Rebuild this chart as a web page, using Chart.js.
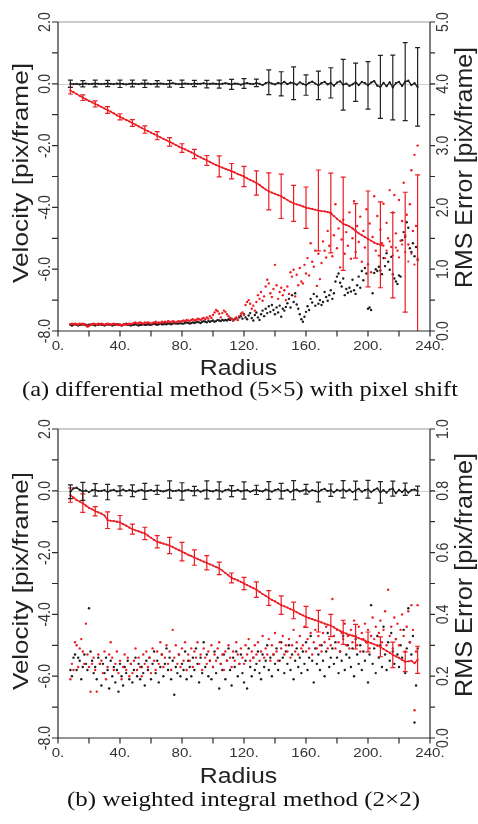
<!DOCTYPE html>
<html>
<head>
<meta charset="utf-8">
<script src="https://cdn.jsdelivr.net/npm/chart.js@4.4.0/dist/chart.umd.min.js"></script>
<style>
  html, body { margin: 0; padding: 0; background: #fff; }
  canvas { display: block; }
</style>
</head>
<body>
<canvas id="chartA" width="478" height="405"></canvas>
<canvas id="chartB" width="478" height="419"></canvas>
<script>
// sample grid along the radius (regular spacing of the measurement)
const radiusLine = [];
for (let r = 8; r <= 232; r += 2) radiusLine.push(r);
const radiusDots = [];
for (let r = 8; r <= 232; r++) radiusDots.push(r);
const barRadius = [8,16,24,32,40,48,56,64,72,80,88,96,104,112,120,128,136,144,152,160,168,176,184,192,200,208,216,224,232];

// ticks
const xMajor = [0,40,80,120,160,200,240];
const xMinor = [20,60,100,140,180,220];
const velMajor = [2,0,-2,-4,-6,-8];
const velMinor = [1,-1,-3,-5,-7];
const rmsMajorA = [0,1,2,3,4,5];
const rmsMinorA = [0.5,1.5,2.5,3.5,4.5];
const rmsMajorB = [0,0.2,0.4,0.6,0.8,1.0];
const rmsMinorB = [0.1,0.3,0.5,0.7,0.9];

// --- (a) differential method ---
const velBlackA = [
  0.00,-0.01,0.00,-0.02,0.00,0.01,-0.01,0.00,0.01,0.00,-0.01,0.00,
  0.01,0.00,-0.01,0.01,0.00,0.00,-0.02,0.00,0.01,0.00,-0.01,0.01,
  0.00,0.01,-0.01,0.00,0.00,0.01,0.00,-0.01,0.00,0.02,0.00,-0.01,
  0.00,0.01,0.00,-0.01,0.01,0.00,0.00,0.02,-0.01,0.00,0.01,0.00,
  -0.01,0.00,0.02,0.00,-0.02,0.01,0.00,-0.03,0.01,0.02,0.00,-0.01,
  0.03,0.00,-0.04,0.02,0.05,0.01,-0.02,0.03,0.00,0.06,-0.01,0.04,
  0.02,-0.03,0.05,0.00,-0.04,0.03,0.07,0.01,-0.05,0.02,0.06,-0.02,
  0.03,-0.06,0.04,0.08,-0.03,0.01,-0.07,-0.02,0.05,-0.04,0.06,0.02,
  -0.05,0.04,0.09,-0.06,-0.10,0.03,-0.08,0.05,-0.12,0.02,0.06,-0.07,
  0.07,0.10,-0.04,0.02,-0.10
];
const velRedA = [
  -0.22,-0.27,-0.33,-0.39,-0.45,-0.50,-0.55,-0.60,-0.65,-0.70,-0.75,-0.80,
  -0.85,-0.90,-0.96,-1.02,-1.07,-1.12,-1.17,-1.22,-1.27,-1.32,-1.38,-1.43,
  -1.48,-1.53,-1.58,-1.63,-1.68,-1.73,-1.78,-1.83,-1.88,-1.93,-1.98,-2.03,
  -2.08,-2.12,-2.17,-2.22,-2.27,-2.33,-2.38,-2.43,-2.48,-2.53,-2.58,-2.63,
  -2.67,-2.71,-2.75,-2.79,-2.83,-2.87,-2.92,-2.96,-3.00,-3.06,-3.11,-3.16,
  -3.21,-3.27,-3.35,-3.42,-3.48,-3.52,-3.56,-3.60,-3.64,-3.70,-3.76,-3.82,
  -3.87,-3.90,-3.93,-3.97,-4.01,-4.03,-4.05,-4.08,-4.10,-4.12,-4.13,-4.15,
  -4.18,-4.28,-4.37,-4.45,-4.53,-4.57,-4.61,-4.68,-4.76,-4.84,-4.90,-4.96,
  -5.02,-5.08,-5.14,-5.18,-5.21,-5.24,-5.40,-5.10,-5.55,-5.30,-5.62,-5.20,
  -5.45,-5.75,-5.50,-5.85,-5.65
];
const errBlackA = [0.12,0.10,0.11,0.10,0.12,0.11,0.12,0.10,0.11,0.12,0.10,0.12,0.13,0.16,0.16,0.12,0.40,0.39,0.53,0.33,0.46,0.49,0.82,0.62,0.77,1.02,1.05,1.26,1.27];
const errRedA = [0.11,0.09,0.10,0.11,0.10,0.11,0.12,0.13,0.14,0.14,0.15,0.16,0.34,0.25,0.33,0.39,0.60,0.72,0.58,0.67,1.31,1.29,1.51,0.88,1.55,1.39,1.38,1.94,2.70];
const rmsBlackA = [
  .10,.09,.10,.11,.10,.09,.10,.10,.11,.10,
  .10,.09,.10,.10,.11,.10,.09,.10,.10,.11,
  .10,.10,.09,.10,.11,.10,.10,.09,.10,.10,
  .11,.10,.10,.09,.10,.11,.12,.10,.10,.09,
  .10,.10,.11,.10,.09,.10,.10,.11,.10,.10,
  .11,.10,.10,.11,.12,.11,.10,.11,.12,.11,
  .11,.12,.11,.12,.12,.11,.12,.13,.12,.12,
  .12,.13,.12,.12,.13,.14,.13,.12,.13,.14,
  .13,.14,.15,.14,.13,.15,.16,.15,.14,.16,
  .15,.16,.17,.15,.16,.18,.17,.16,.18,.17,
  .18,.17,.19,.18,.20,.17,.19,.21,.18,.22,
  .24,.20,.27,.22,.19,.25,.29,.21,.17,.26,
  .30,.22,.18,.27,.33,.24,.36,.29,.40,.31,
  .42,.34,.27,.38,.30,.41,.23,.36,.33,.39,
  .45,.52,.38,.58,.47,.61,.43,.36,.27,.19,
  .15,.23,.31,.40,.34,.52,.46,.60,.41,.56,
  .44,.50,.42,.47,.63,.55,.49,.58,.66,.52,
  .61,.80,.88,.93,.78,.72,.85,.58,.68,.62,
  .70,.64,.83,.66,.60,.74,.88,.70,.97,.82,
  1.02,.93,.36,.38,.34,.61,.94,1.00,.97,1.04,
  .98,.92,1.18,1.05,1.26,1.12,.99,1.20,.92,.85,
  .80,.76,.90,.88,1.47,1.60,1.52,1.76,1.67,1.34,
  1.28,1.42,1.21,1.36,1.15
];
const rmsRedA = [
  .11,.12,.11,.12,.11,.10,.12,.11,.12,.11,
  .09,.07,.08,.10,.11,.12,.11,.10,.12,.11,
  .12,.11,.10,.11,.12,.11,.10,.11,.12,.11,
  .10,.11,.10,.09,.10,.11,.10,.11,.12,.11,
  .12,.13,.14,.12,.13,.14,.13,.12,.14,.13,
  .14,.13,.12,.13,.14,.15,.13,.14,.13,.15,
  .14,.15,.14,.16,.15,.14,.16,.15,.14,.15,
  .16,.15,.16,.17,.16,.18,.17,.16,.18,.19,
  .17,.18,.20,.19,.18,.20,.21,.19,.22,.20,
  .24,.21,.26,.30,.34,.32,.28,.22,.29,.33,
  .31,.27,.24,.21,.19,.17,.20,.22,.18,.24,
  .28,.30,.26,.42,.47,.50,.44,.36,.41,.33,
  .47,.58,.52,.63,.49,.56,.72,.83,.77,.61,
  .55,.68,1.07,.74,.52,.63,.70,.58,.66,.50,
  .72,.60,.95,.88,.99,.56,.91,.74,1.02,.80,
  .77,1.07,.93,1.18,.90,1.42,1.12,1.04,1.30,.73,
  1.25,.84,1.10,1.45,1.30,1.19,1.62,1.38,1.90,1.21,
  1.55,2.05,1.34,1.66,1.03,1.48,1.80,1.25,1.60,1.38,
  1.92,1.17,1.50,2.10,1.28,1.70,1.44,1.85,1.12,1.62,
  1.35,1.97,1.08,1.74,.95,1.52,2.18,1.30,1.86,1.22,
  1.64,1.42,2.06,1.18,1.75,1.50,2.28,1.36,1.92,2.20,
  1.58,1.30,2.12,1.46,1.78,2.40,1.55,1.88,1.40,2.05,
  2.60,1.62,2.85,1.70,3.00
];

// --- (b) weighted integral method ---
const velBlackB = [
  -0.03,0.08,0.10,0.03,-0.02,0.01,-0.04,0.02,0.03,-0.01,0.00,0.02,
  -0.04,0.01,0.03,-0.02,0.00,0.04,-0.01,0.02,0.00,-0.03,0.01,0.03,
  -0.02,0.00,0.02,-0.01,0.03,0.00,-0.02,0.01,0.04,-0.01,0.00,0.02,
  -0.02,0.01,0.03,0.00,-0.01,0.02,-0.03,0.01,0.03,0.00,-0.02,0.02,
  0.01,-0.03,0.02,0.04,-0.01,0.00,0.03,-0.02,0.01,0.02,-0.03,0.01,
  0.03,0.00,-0.02,0.04,0.01,-0.03,0.02,0.05,-0.01,0.00,0.03,-0.04,
  0.02,0.04,-0.02,0.01,0.05,-0.03,0.02,0.00,-0.04,0.03,0.06,-0.01,
  0.02,-0.05,0.03,0.00,0.05,-0.02,0.04,-0.04,0.01,0.06,-0.03,0.02,
  0.05,-0.04,0.03,0.08,-0.05,0.02,-0.06,0.04,0.07,-0.08,0.03,-0.04,
  0.05,-0.06,0.02,0.04,0.00
];
const velRedB = [
  -0.14,-0.22,-0.30,-0.35,-0.40,-0.48,-0.55,-0.60,-0.66,-0.70,-0.74,-0.80,
  -0.95,-0.97,-0.98,-1.00,-1.02,-1.08,-1.13,-1.19,-1.24,-1.28,-1.31,-1.35,
  -1.38,-1.45,-1.52,-1.59,-1.65,-1.68,-1.71,-1.74,-1.77,-1.82,-1.87,-1.92,
  -1.97,-2.02,-2.07,-2.11,-2.16,-2.20,-2.25,-2.29,-2.33,-2.38,-2.42,-2.47,
  -2.51,-2.58,-2.66,-2.74,-2.82,-2.86,-2.90,-2.95,-3.00,-3.05,-3.10,-3.15,
  -3.20,-3.27,-3.34,-3.40,-3.47,-3.53,-3.58,-3.64,-3.70,-3.74,-3.78,-3.83,
  -3.87,-3.93,-3.98,-4.03,-4.08,-4.12,-4.15,-4.19,-4.22,-4.26,-4.30,-4.33,
  -4.36,-4.42,-4.48,-4.53,-4.58,-4.62,-4.66,-4.69,-4.72,-4.77,-4.81,-4.85,
  -4.89,-4.93,-4.97,-5.01,-5.05,-5.12,-5.18,-5.24,-5.31,-5.36,-5.41,-5.47,
  -5.53,-5.52,-5.50,-5.58,-5.47
];
const errBlackB = [0.22,0.29,0.20,0.25,0.16,0.19,0.26,0.15,0.28,0.28,0.15,0.29,0.28,0.18,0.28,0.15,0.29,0.25,0.31,0.16,0.32,0.20,0.28,0.30,0.29,0.35,0.24,0.20,0.15];
const errRedB = [0.23,0.30,0.15,0.27,0.22,0.16,0.20,0.20,0.26,0.30,0.25,0.23,0.20,0.16,0.20,0.25,0.24,0.30,0.27,0.34,0.35,0.36,0.39,0.40,0.32,0.32,0.41,0.32,0.44];
const rmsBlackB = [
  .22,.20,.26,.27,.22,.26,.25,.19,.23,.27,
  .24,.22,.42,.28,.25,.21,.23,.19,.26,.24,
  .17,.24,.21,.26,.22,.16,.25,.20,.23,.18,
  .22,.15,.24,.20,.17,.23,.21,.25,.19,.24,
  .18,.22,.26,.20,.24,.19,.23,.21,.17,.25,
  .22,.26,.19,.24,.28,.21,.25,.18,.23,.27,
  .20,.24,.29,.22,.26,.19,.25,.14,.23,.21,
  .27,.20,.24,.22,.28,.19,.25,.23,.20,.26,
  .22,.29,.24,.18,.26,.21,.31,.23,.27,.20,
  .25,.19,.23,.28,.21,.26,.16,.24,.22,.27,
  .19,.25,.29,.22,.17,.26,.23,.28,.20,.24,
  .27,.21,.18,.25,.16,.29,.23,.20,.26,.22,
  .24,.28,.21,.19,.27,.23,.25,.30,.22,.26,
  .20,.27,.24,.29,.22,.25,.31,.26,.21,.28,
  .24,.30,.22,.27,.19,.25,.29,.23,.26,.21,
  .28,.24,.31,.22,.26,.33,.25,.18,.29,.24,
  .27,.22,.30,.25,.20,.28,.34,.23,.26,.29,
  .24,.31,.26,.21,.28,.25,.33,.22,.27,.30,
  .26,.23,.29,.20,.32,.27,.24,.30,.22,.28,
  .25,.31,.18,.27,.43,.24,.29,.21,.33,.26,
  .30,.23,.36,.27,.22,.31,.25,.34,.28,.24,
  .32,.27,.23,.30,.26,.35,.21,.29,.42,.31,
  .27,.33,.05,.17,.29
];
const rmsRedB = [
  .19,.24,.22,.31,.30,.23,.29,.32,.28,.24,
  .37,.27,.23,.15,.24,.26,.22,.15,.27,.24,
  .25,.21,.28,.19,.23,.27,.31,.26,.22,.24,
  .28,.21,.25,.19,.23,.27,.22,.26,.20,.24,
  .21,.25,.29,.22,.26,.23,.20,.27,.24,.28,
  .23,.26,.21,.29,.25,.22,.28,.24,.31,.27,
  .23,.26,.30,.24,.28,.22,.35,.26,.30,.24,
  .27,.23,.29,.25,.31,.22,.27,.25,.29,.23,
  .28,.26,.31,.24,.27,.22,.29,.26,.24,.28,
  .25,.30,.23,.27,.25,.29,.31,.24,.27,.22,
  .28,.25,.30,.26,.23,.28,.25,.31,.27,.24,
  .29,.26,.24,.30,.27,.32,.25,.28,.26,.30,
  .27,.31,.25,.28,.33,.26,.29,.27,.32,.25,
  .30,.27,.34,.28,.25,.31,.29,.33,.27,.30,
  .28,.32,.26,.30,.35,.28,.31,.27,.33,.29,
  .30,.36,.28,.32,.29,.34,.27,.31,.35,.29,
  .33,.30,.28,.34,.31,.36,.29,.32,.30,.45,
  .33,.29,.35,.31,.28,.34,.32,.37,.30,.33,
  .29,.35,.31,.38,.33,.30,.36,.28,.34,.32,
  .37,.31,.35,.29,.33,.39,.32,.36,.30,.34,
  .38,.31,.35,.41,.30,.48,.33,.36,.29,.39,
  .32,.37,.30,.35,.40,.33,.28,.36,.41,.31,
  .43,.35,.09,.28,.43
];

const RED = '#ec1c24';
const BLACK = '#1c1c1c';

// where texts go in each canvas
const panelSetup = {
  chartA: {
    velData: { black: velBlackA, red: velRedA },
    bars: [{ center: velRedA, err: errRedA, color: RED }, { center: velBlackA, err: errBlackA, color: '#222' }],
    rmsMajor: rmsMajorA, rmsMinor: rmsMinorA,
    xLabelBase: 349.5, radiusBase: 375, radiusX: 238.5,
    caption: '(a) differential method (5\u00d75) with pixel shift',
    captionX: 240, captionBase: 396, captionWidth: 436,
    velTitleY: 173, velTitleLen: 220, rmsTitleY: 167.5, rmsTitleLen: 241
  },
  chartB: {
    bars: [{ center: velRedB, err: errRedB, color: RED }, { center: velBlackB, err: errBlackB, color: '#222' }],
    rmsMajor: rmsMajorB, rmsMinor: rmsMinorB,
    xLabelBase: 351.5, radiusBase: 378, radiusX: 238.5,
    caption: '(b) weighted integral method (2\u00d72)',
    captionX: 243.5, captionBase: 401, captionWidth: 353,
    velTitleY: 176, velTitleLen: 218, rmsTitleY: 170, rmsTitleLen: 244
  }
};

function drawText(ctx, s, x, y, font, rot, sAlong, sAcross, align, base) {
  ctx.save();
  ctx.translate(x, y);
  ctx.rotate(rot);
  ctx.scale(sAlong, sAcross);
  ctx.font = font;
  ctx.textAlign = align;
  ctx.textBaseline = base;
  ctx.fillText(s, 0, 0);
  ctx.restore();
}

function fitText(ctx, s, x, y, font, rot, len, sAcross, align) {
  ctx.save();
  ctx.font = font;
  const w = ctx.measureText(s).width;
  ctx.restore();
  drawText(ctx, s, x, y, font, rot, len / w, sAcross, align, 'alphabetic');
}

const framePlugin = {
  id: 'frame',
  beforeDatasetsDraw(chart) {
    const { ctx, chartArea: a, scales } = chart;
    const y0 = Math.round(scales.y.getPixelForValue(0)) + 0.5;
    ctx.save();
    ctx.strokeStyle = '#cfcfcf';
    ctx.lineWidth = 1;
    ctx.beginPath();
    ctx.moveTo(a.left, y0);
    ctx.lineTo(a.right + 8, y0);
    ctx.stroke();
    ctx.restore();
  },
  afterDatasetsDraw(chart) {
    const p = panelSetup[chart.canvas.id];
    const { ctx, chartArea: a, scales: { x, y } } = chart;
    ctx.save();
    ctx.beginPath();
    ctx.rect(a.left, a.top, a.right - a.left, a.bottom - a.top);
    ctx.clip();
    ctx.lineWidth = 1.2;
    p.bars.forEach(b => {
      ctx.strokeStyle = b.color;
      barRadius.forEach((r, i) => {
        const v = b.center[radiusLine.indexOf(r)];
        const px = x.getPixelForValue(r);
        const top = y.getPixelForValue(v + b.err[i]);
        const bot = y.getPixelForValue(v - b.err[i]);
        ctx.beginPath();
        ctx.moveTo(px, top); ctx.lineTo(px, bot);
        ctx.moveTo(px - 2.5, top); ctx.lineTo(px + 2.5, top);
        ctx.moveTo(px - 2.5, bot); ctx.lineTo(px + 2.5, bot);
        ctx.stroke();
      });
    });
    ctx.restore();
  },
  afterDraw(chart) {
    const p = panelSetup[chart.canvas.id];
    const { ctx, chartArea: a, scales: { x, y, y1 } } = chart;
    ctx.save();

    // frame
    ctx.lineWidth = 1.2;
    ctx.strokeStyle = '#999';
    ctx.beginPath(); ctx.moveTo(a.left, a.top); ctx.lineTo(a.right, a.top); ctx.stroke();
    ctx.strokeStyle = '#2a2a2a';
    ctx.beginPath();
    ctx.moveTo(a.left, a.top); ctx.lineTo(a.left, a.bottom); ctx.lineTo(a.right, a.bottom);
    ctx.moveTo(a.right, a.top); ctx.lineTo(a.right, a.bottom);
    ctx.stroke();

    // ticks
    ctx.beginPath();
    xMajor.concat(xMinor).forEach(v => {
      const px = x.getPixelForValue(v);
      ctx.moveTo(px, a.bottom); ctx.lineTo(px, a.bottom + 5.5);
    });
    velMajor.concat(velMinor).forEach(v => {
      const py = y.getPixelForValue(v);
      ctx.moveTo(a.left - 6, py); ctx.lineTo(a.left, py);
    });
    p.rmsMajor.concat(p.rmsMinor).forEach(v => {
      const py = y1.getPixelForValue(v);
      ctx.moveTo(a.right, py); ctx.lineTo(a.right + 5, py);
    });
    ctx.stroke();

    // tick labels
    ctx.fillStyle = '#333';
    const sans = '"Liberation Sans", Arial, sans-serif';
    xMajor.forEach(v => {
      drawText(ctx, v + '.', x.getPixelForValue(v), p.xLabelBase, '13px ' + sans, 0, 1.16, 1, 'center', 'alphabetic');
    });
    velMajor.forEach(v => {
      drawText(ctx, v.toFixed(1), 50, y.getPixelForValue(v), '15px ' + sans, -Math.PI / 2, 0.95, 1.1, 'center', 'alphabetic');
    });
    p.rmsMajor.forEach(v => {
      drawText(ctx, v.toFixed(1), 448, y1.getPixelForValue(v), '15px ' + sans, -Math.PI / 2, 0.95, 1.1, 'center', 'alphabetic');
    });

    // axis titles
    ctx.fillStyle = '#222';
    fitText(ctx, 'Velocity [pix/frame]', 28, p.velTitleY, '21px ' + sans, -Math.PI / 2, p.velTitleLen, 1.05, 'center');
    fitText(ctx, 'RMS Error [pix/frame]', 472, p.rmsTitleY, '22px ' + sans, -Math.PI / 2, p.rmsTitleLen, 1.05, 'center');
    drawText(ctx, 'Radius', p.radiusX, p.radiusBase, '22px ' + sans, 0, 1.13, 1, 'center', 'alphabetic');

    // caption
    ctx.fillStyle = '#111';
    fitText(ctx, p.caption, p.captionX, p.captionBase, '22px "Liberation Serif", "Times New Roman", serif', 0, p.captionWidth, 1, 'center');
    ctx.restore();
  }
};

function dots(values, color) {
  return {
    data: radiusDots.map((r, i) => ({ x: r, y: values[i] })),
    yAxisID: 'y1',
    showLine: false,
    backgroundColor: color,
    borderWidth: 0,
    pointRadius: 1.2
  };
}

function curve(values, color, cut) {
  return {
    data: radiusLine.map((r, i) => ({ x: r, y: values[i] })),
    yAxisID: 'y',
    showLine: true,
    borderColor: color,
    backgroundColor: color,
    borderWidth: 1.4,
    pointRadius: 1.1,
    pointBorderWidth: 0,
    segment: {
      borderColor: c => (cut && c.p0.parsed.x >= cut) ? 'rgba(0,0,0,0)' : color
    }
  };
}

function makeChart(id, datasets, rmsMax, topPad, plotBottom) {
  const canvas = document.getElementById(id);
  return new Chart(canvas, {
    type: 'scatter',
    data: { datasets: datasets },
    options: {
      responsive: false,
      animation: false,
      devicePixelRatio: 1,
      layout: { padding: { top: topPad, left: 0, right: 0, bottom: 0 } },
      plugins: { legend: { display: false }, tooltip: { enabled: false } },
      scales: {
        x: {
          type: 'linear', min: 0, max: 240,
          ticks: { display: false }, grid: { display: false }, border: { display: false },
          afterFit(s) { s.height = canvas.height - plotBottom; }
        },
        y: {
          position: 'left', min: -8, max: 2,
          ticks: { display: false }, grid: { display: false }, border: { display: false },
          afterFit(s) { s.width = 58; }
        },
        y1: {
          position: 'right', min: 0, max: rmsMax,
          ticks: { display: false }, grid: { display: false }, border: { display: false },
          afterFit(s) { s.width = 48; }
        }
      }
    },
    plugins: [framePlugin]
  });
}

makeChart('chartA', [
  curve(velBlackA, BLACK),
  curve(velRedA, RED, 210),
  dots(rmsRedA, RED),
  dots(rmsBlackA, BLACK)
], 5, 22, 331);

makeChart('chartB', [
  curve(velBlackB, BLACK),
  curve(velRedB, RED),
  dots(rmsRedB, RED),
  dots(rmsBlackB, BLACK)
], 1, 24, 333);
</script>
</body>
</html>
